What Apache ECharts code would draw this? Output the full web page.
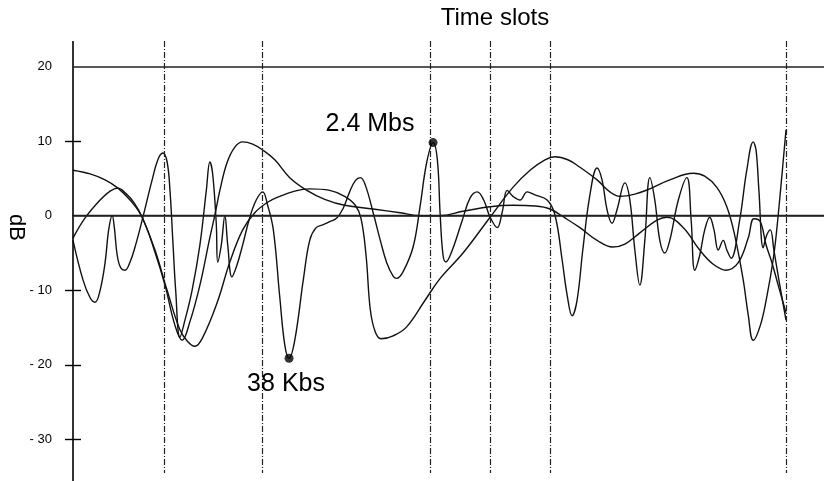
<!DOCTYPE html>
<html>
<head>
<meta charset="utf-8">
<script src="https://cdn.jsdelivr.net/npm/echarts@6/dist/echarts.min.js"></script>
<style>
  html, body { margin: 0; padding: 0; background: #ffffff; }
  #chart { width: 824px; height: 481px; }
</style>
</head>
<body>
<div id="chart"></div>
<script>
// ---- Data (x = time slot position, y = dB) ----
const curveSmooth = [
  [0,6.1],[2.4,5.6],[4.5,4.8],[6.3,3.7],[8.0,2.1],[9.7,-0.2],[11.5,-4.9],[12.9,-9.3],[14.3,-14.7],
  [15.3,-16.7],[16.4,-14.2],[17.8,-9.3],[19.2,-2.9],[19.9,0.1],[20.6,3.4],[21.6,7.1],[22.7,9.2],
  [23.8,9.9],[25.2,9.6],[26.6,8.8],[28.3,7.5],[30.4,5.1],[32.8,3.4],[35.3,2.2],[38.1,1.4],[42.1,0.9],
  [45.9,0.4],[48.7,0.0],[51.5,0.0],[54.7,0.6],[58.5,1.2],[61.7,1.4],[64.8,1.3],[66.9,0.9],[69.0,-0.3],
  [71.1,-1.6],[73.5,-3.3],[75.7,-4.2],[77.4,-3.8],[79.5,-2.3],[81.9,-0.6],[83.3,-0.2],[85.6,-1.6],
  [87.9,-4.6],[89.8,-6.5],[91.6,-7.3],[93.3,-6.3],[94.7,-3.0],[95.5,-0.4],[96.4,-0.8],[97.2,-3.9],
  [98.0,-6.2],[98.9,-9.3],[100,-13.0]
];
const curveWide = [
  [0,-3.0],[1.7,-0.3],[3.8,2.1],[5.2,3.3],[6.3,3.7],[7.4,3.0],[8.6,1.7],[9.7,-0.2],[11.5,-4.6],
  [13.2,-10.0],[15.0,-15.3],[16.1,-16.9],[17.1,-17.5],[18.2,-16.3],[20.2,-11.7],[22.0,-6.2],
  [23.8,-1.9],[25.5,0.4],[27.3,1.8],[29.0,2.6],[31.1,3.3],[33.2,3.6],[36.0,3.4],[38.1,2.6],[39.6,1.4],
  [40.4,-0.4],[41.1,-5.3],[41.7,-12.6],[42.4,-15.6],[43.2,-16.5],[44.9,-16.1],[46.8,-14.9],
  [49.4,-11.3],[51.5,-8.4],[54.7,-5.0],[58.5,-0.2],[61.7,3.8],[64.1,6.1],[66.2,7.5],[67.6,7.9],
  [69.4,7.5],[71.1,6.5],[73.5,4.8],[75.3,3.2],[76.7,2.6],[78.8,2.9],[80.9,3.6],[83.7,4.8],[87.0,5.7],
  [88.6,5.3],[90.3,3.8],[91.7,1.2],[92.8,-2.6],[94.0,-8.6],[94.7,-13.3],[95.4,-16.7],[96.4,-14.7],
  [97.3,-10.9],[98.2,-5.9],[98.7,-1.9],[99.3,4.1],[100,11.5]
];
const curveSpiky = [
  [0,-3.3],[1.4,-8.6],[2.4,-11.0],[3.1,-11.6],[3.8,-10.0],[4.5,-6.3],[5.0,-1.9],[5.5,0.0],[5.8,-1.6],
  [6.2,-5.3],[6.7,-7.0],[7.3,-7.3],[8.0,-6.2],[8.7,-4.2],[9.7,-0.6],[11.1,4.8],[11.9,7.5],[12.6,8.4],
  [13.2,7.2],[13.6,3.4],[14.0,-3.3],[14.4,-10.0],[15.0,-16.3],[15.7,-14.0],[16.7,-10.0],[17.8,-3.9],
  [18.7,3.4],[19.2,7.2],[19.6,5.5],[20.1,-1.2],[20.3,-6.2],[20.8,-3.9],[21.3,0.0],[21.7,-3.9],
  [22.3,-8.2],[23.0,-6.6],[23.8,-3.9],[24.8,-0.2],[25.7,2.1],[26.6,3.2],[27.3,1.4],[28.1,-1.9],
  [29.0,-10.9],[29.7,-17.3],[30.3,-19.1],[31.1,-16.7],[32.3,-8.6],[33.2,-3.3],[34.1,-1.6],[35.1,-1.2],
  [36.0,-0.8],[37.0,-0.3],[37.9,1.0],[38.8,3.2],[39.6,4.7],[40.3,5.1],[41.0,4.1],[42.1,0.4],[43.1,-3.3],
  [44.0,-6.3],[44.9,-8.1],[45.4,-8.4],[46.3,-7.5],[47.7,-4.2],[48.7,1.4],[49.6,7.1],[50.5,9.8],
  [51.1,7.5],[51.5,0.1],[51.9,-5.3],[52.3,-6.2],[53.2,-4.6],[54.6,-0.6],[55.7,2.4],[56.7,3.2],
  [57.6,2.1],[58.5,-0.2],[59.5,-1.6],[60.2,0.5],[60.9,3.4],[61.7,2.6],[62.7,2.1],[63.7,3.2],[64.8,2.8],
  [66.5,2.1],[67.6,0.1],[68.6,-5.9],[69.3,-10.6],[70.0,-13.4],[70.7,-11.3],[71.5,-4.6],[72.5,2.8],
  [73.5,6.4],[74.2,4.8],[74.9,0.8],[75.6,-1.0],[76.3,0.8],[77.4,4.4],[78.1,2.1],[78.8,-4.6],[79.5,-9.3],
  [80.2,-3.3],[80.9,5.1],[81.6,2.1],[82.3,-3.3],[83.0,-5.0],[83.7,-3.3],[84.9,2.1],[86.1,5.1],
  [86.7,-0.6],[87.2,-7.3],[87.9,-5.3],[88.6,-1.9],[89.3,-0.2],[89.9,-1.9],[90.5,-4.6],[91.2,-3.3],
  [91.7,-4.6],[92.3,-5.7],[93.5,-0.6],[94.5,6.1],[95.4,9.9],[95.8,8.8],[96.2,3.4],[96.8,-4.3],
  [97.3,-2.6],[97.8,-1.9],[98.3,-4.6],[99.0,-8.6],[100,-14.0]
];
const markedPoints = [[50.5, 9.8], [30.3, -19.1]];
const markedLabels = ['2.4 Mbs', '38 Kbs'];
const slotBoundaries = [12.8, 26.6, 50.1, 58.5, 67.0, 100];
const referenceLevels = [20, 0];
const yTickLabels = [-30, -20, -10, 0, 10, 20];
const yTickMarks = [-30, -20, -10, 10];

// ---- Axis extents ----
const Y_MIN = -35.56, Y_MAX = 23.42, Y_SLOT_BOTTOM = -34.5;
const X_MIN = 0, X_MAX = 105.33;

const FONT = 'Liberation Sans, Arial, Helvetica, sans-serif';
const chart = echarts.init(document.getElementById('chart'), null, { renderer: 'canvas' });

const lineStyle = { color: '#111', width: 1.4 };
function curveSeries(name, data) {
  return {
    name, type: 'line', data, smooth: 0.4, showSymbol: false, symbol: 'none',
    lineStyle, silent: true, clip: true, z: 3
  };
}

const option = {
  animation: false,
  backgroundColor: '#ffffff',
  grid: { left: 73, right: 0, top: 41, bottom: 0, containLabel: false },
  xAxis: {
    type: 'value', position: 'top', min: X_MIN, max: X_MAX,
    axisLine: { show: true, lineStyle: { color: '#222', width: 1.3 } },
    axisTick: { show: false }, axisLabel: { show: false }, splitLine: { show: false }
  },
  yAxis: {
    type: 'value', position: 'left', offset: -8, min: Y_MIN, max: Y_MAX,
    axisLine: { show: false },
    axisTick: { show: true, inside: false, length: 16, customValues: yTickMarks, lineStyle: { color: '#000', width: 1.4 } },
    axisLabel: {
      show: true, customValues: yTickLabels, margin: 29, color: '#000', fontSize: 13,
      fontFamily: FONT,
      formatter: v => (v < 0 ? '- ' + (-v) : String(v))
    },
    splitLine: { show: false }
  },
  graphic: [
    { type: 'text', x: 495, y: 18, style: { text: 'Time slots', fill: '#000', font: '24px ' + FONT, align: 'center', verticalAlign: 'middle' } },
    { type: 'text', x: 16.5, y: 227.5, rotation: -Math.PI / 2, style: { text: 'dB', fill: '#000', font: '22px ' + FONT, align: 'center', verticalAlign: 'middle' } }
  ],
  series: [
    Object.assign(curveSeries('slow', curveSmooth), {
      markLine: {
        silent: true, symbol: 'none', label: { show: false },
        data: [
          { xAxis: X_MIN, lineStyle: { color: '#000', width: 1.6, type: 'solid' } },
          ...referenceLevels.map(v => ({ yAxis: v, lineStyle: { color: '#222', width: 1.5, type: 'solid' } })),
          ...slotBoundaries.map(x => [
            { coord: [x, Y_MAX], lineStyle: { color: '#222', width: 1.2, type: [6, 2, 1, 2] } },
            { coord: [x, Y_SLOT_BOTTOM] }
          ])
        ]
      }
    }),
    curveSeries('wide', curveWide),
    curveSeries('spiky', curveSpiky),
    {
      type: 'scatter', data: markedPoints, symbol: 'circle', symbolSize: 9, z: 5,
      itemStyle: { color: '#000' }, silent: true,
      label: {
        show: true, position: 'inside', color: '#000', fontSize: 25, fontFamily: FONT,
        textBorderWidth: 0, opacity: 1,
        formatter: p => markedLabels[p.dataIndex]
      },
      labelLayout: p => (p.dataIndex === 0 ? { dx: -63, dy: -18 } : { dx: -3, dy: 26 })
    }
  ]
};
chart.setOption(option);
</script>
</body>
</html>
